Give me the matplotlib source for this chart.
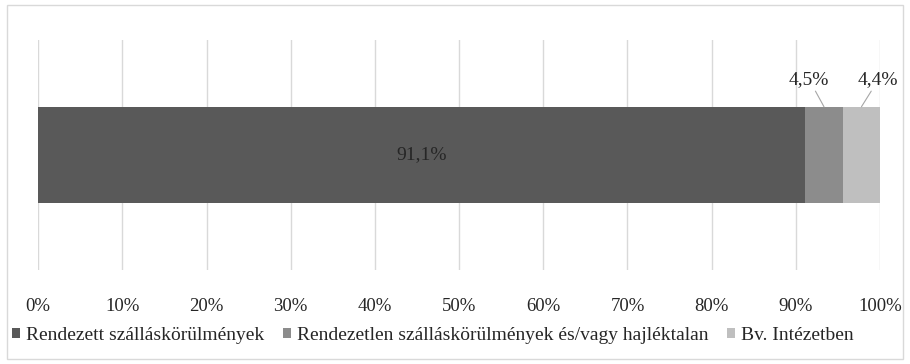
import matplotlib
matplotlib.use("Agg")
import matplotlib.pyplot as plt
from matplotlib.patches import Rectangle
from matplotlib.font_manager import FontProperties

plt.rcParams['font.family'] = ['Liberation Serif', 'DejaVu Serif']

categories = ['Rendezett szálláskörülmények',
              'Rendezetlen szálláskörülmények és/vagy hajléktalan',
              'Bv. Intézetben']
values = [91.1, 4.5, 4.4]
labels = ['91,1%', '4,5%', '4,4%']
colors = ['#595959', '#8c8c8c', '#bfbfbf']
ticks = list(range(0, 101, 10))
tick_labels = [f'{t}%' for t in ticks]

FS = 14
txt_col = '#262626'

fig = plt.figure(figsize=(9.1, 3.64), dpi=100)
ax = fig.add_axes([0.042, 0.258, 0.925, 0.632])

left = 0
for cat, val, col in zip(categories, values, colors):
    ax.barh(0, val, left=left, height=0.42, color=col, label=cat)
    left += val

ax.set_xlim(0, 100)
ax.set_ylim(-0.5, 0.5)
ax.set_xticks(ticks)
ax.set_xticklabels(tick_labels, fontsize=13.5, color=txt_col)
ax.set_yticks([])
ax.tick_params(axis='x', length=0, pad=20)
ax.grid(axis='x', color='#d9d9d9', linewidth=1)
ax.set_axisbelow(True)
for s in ax.spines.values():
    s.set_visible(False)

# inside label for the big segment
ax.text(values[0] / 2, 0, labels[0], ha='center', va='center', fontsize=FS, color=txt_col)

# outside labels with leader lines
mid1 = values[0] + values[1] / 2
mid2 = values[0] + values[1] + values[2] / 2
ax.annotate(labels[1], xy=(mid1, 0.21), xytext=(91.6, 0.29),
            ha='center', va='bottom', fontsize=FS, color=txt_col,
            arrowprops=dict(arrowstyle='-', color='#a6a6a6', lw=0.8, shrinkA=0, shrinkB=0))
ax.annotate(labels[2], xy=(mid2, 0.21), xytext=(99.8, 0.29),
            ha='center', va='bottom', fontsize=FS, color=txt_col,
            arrowprops=dict(arrowstyle='-', color='#a6a6a6', lw=0.8, shrinkA=0, shrinkB=0))

fig.legend(loc='center', bbox_to_anchor=(0.476, 0.079), ncol=3, frameon=False,
           prop=FontProperties(family=['Liberation Serif', 'DejaVu Serif'], size=FS),
           handlelength=0.38, handleheight=0.38, handletextpad=0.35,
           columnspacing=0.95, labelcolor=txt_col)

fig.patches.append(Rectangle((0.008, 0.015), 0.984, 0.97, transform=fig.transFigure,
                             fill=False, edgecolor='#d9d9d9', linewidth=1))

fig.savefig('out.png', dpi=100)
